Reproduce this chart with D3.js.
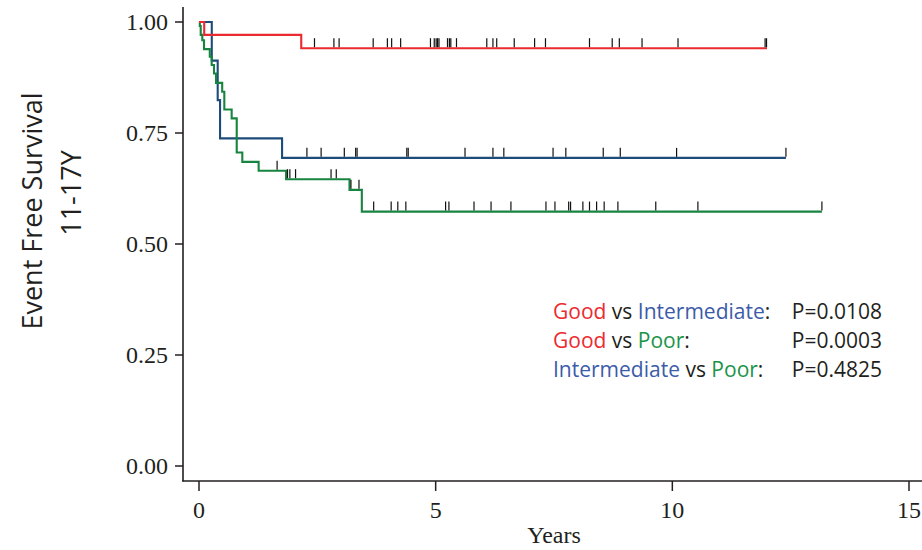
<!DOCTYPE html>
<html>
<head>
<meta charset="utf-8">
<script src="https://cdn.jsdelivr.net/npm/d3@7/dist/d3.min.js"></script>
<style>
  body { margin: 0; background: #fff; }
  svg { display: block; }
  .tick-label { font-family: "Liberation Serif", "Times New Roman", serif; font-size: 24px; fill: #231f20; }
  .legend { font-family: "Open Sans", sans-serif; font-size: 21px; }
</style>
</head>
<body>
<svg width="922" height="550"></svg>
<script>
// Kaplan-Meier steps: time (years) and survival after each step
const goodTimes = [0, 0.11, 2.16]
const goodSurv = [1, 0.971, 0.941]
const goodEnd = 12.0
const goodCensor = [2.44, 2.85, 2.96, 3.68, 3.98, 4.07, 4.26, 4.89, 4.97, 5.01, 5.04, 5.07,
  5.25, 5.29, 5.32, 5.44, 6.08, 6.21, 6.29, 6.66, 7.09, 7.32, 8.25, 8.73, 8.88, 9.36,
  10.12, 11.96, 11.99]

const interTimes = [0, 0.27, 0.395, 0.445, 1.755]
const interSurv = [1, 0.913, 0.824, 0.738, 0.694]
const interEnd = 12.40
const interCensor = [2.28, 2.58, 3.07, 3.31, 3.34, 4.39, 4.42, 5.62, 6.21, 6.44, 7.48,
  7.75, 8.54, 8.90, 10.09, 12.40]

const poorTimes = [0, 0.017, 0.036, 0.07, 0.106, 0.228, 0.268, 0.317, 0.36, 0.49, 0.535,
  0.69, 0.797, 0.915, 1.26, 1.84, 3.18, 3.44]
const poorSurv = [1, 0.991, 0.971, 0.959, 0.939, 0.922, 0.903, 0.884, 0.863, 0.843, 0.803,
  0.783, 0.706, 0.685, 0.665, 0.646, 0.622, 0.573]
const poorEnd = 13.16
const poorCensor = [1.65, 1.87, 1.92, 2.04, 2.79, 2.90, 3.21, 3.38, 3.69, 4.06, 4.20, 4.37,
  5.21, 5.28, 5.81, 6.17, 6.59, 7.33, 7.52, 7.81, 7.85, 8.11, 8.25, 8.40, 8.56, 8.85,
  9.65, 10.54, 13.16]

const xTicks = [0, 5, 10, 15]
const yTicks = [0, 0.25, 0.5, 0.75, 1]

const red = '#ea2a2e', blue = '#1d4c7b', green = '#17843f'
const ink = '#231f20'

const svg = d3.select('svg')
const x = d3.scaleLinear().domain([0, 15]).range([199, 909])
const y = d3.scaleLinear().domain([0, 1]).range([466, 22])

// axes lines drawn by hand so they can overshoot like the original
svg.append('line').attr('x1', 183).attr('x2', 183).attr('y1', 7).attr('y2', 481.5)
  .attr('stroke', ink).attr('stroke-width', 1.6)
svg.append('line').attr('x1', 182.2).attr('x2', 922).attr('y1', 481).attr('y2', 481)
  .attr('stroke', ink).attr('stroke-width', 1.6)

svg.selectAll('.ytick').data(yTicks).enter().append('line')
  .attr('x1', 175).attr('x2', 183)
  .attr('y1', d => y(d)).attr('y2', d => y(d))
  .attr('stroke', ink).attr('stroke-width', 1.5)

svg.selectAll('.ylab').data(yTicks).enter().append('text')
  .attr('class', 'tick-label')
  .attr('x', 168).attr('y', d => y(d)).attr('dy', '0.34em')
  .attr('text-anchor', 'end')
  .text(d => d3.format('.2f')(d))

svg.selectAll('.xtick').data(xTicks).enter().append('line')
  .attr('x1', d => x(d)).attr('x2', d => x(d))
  .attr('y1', 481).attr('y2', 491)
  .attr('stroke', ink).attr('stroke-width', 1.5)

svg.selectAll('.xlab').data(xTicks).enter().append('text')
  .attr('class', 'tick-label')
  .attr('x', d => x(d)).attr('y', 518)
  .attr('text-anchor', 'middle')
  .text(d => d)

svg.append('text').attr('class', 'tick-label')
  .attr('x', 554).attr('y', 543).attr('text-anchor', 'middle')
  .text('Years')

// y axis title, two lines
const yt = svg.append('g').style('font-family', '"Open Sans", sans-serif')
  .style('font-size', '27px').style('fill', ink)
yt.append('text').attr('transform', 'translate(42,211) rotate(-90)')
  .attr('text-anchor', 'middle').text('Event Free Survival')
yt.append('text').attr('transform', 'translate(81,193) rotate(-90)')
  .attr('text-anchor', 'middle').text('11-17Y')

// survival curves
const groups = [
  {times: interTimes, surv: interSurv, end: interEnd, censor: interCensor, color: blue},
  {times: poorTimes, surv: poorSurv, end: poorEnd, censor: poorCensor, color: green},
  {times: goodTimes, surv: goodSurv, end: goodEnd, censor: goodCensor, color: red},
]

const line = d3.line()
  .x(d => x(d[0])).y(d => y(d[1]))
  .curve(d3.curveStepAfter)

groups.forEach(g => {
  const pts = g.times.map((t, i) => [t, g.surv[i]])
  pts.push([g.end, g.surv[g.surv.length - 1]])
  svg.append('path')
    .attr('d', line(pts))
    .attr('fill', 'none')
    .attr('stroke', g.color)
    .attr('stroke-width', 2.1)
})

// censor marks on top
groups.forEach(g => {
  const survAt = t => g.surv[d3.bisectRight(g.times, t) - 1]
  svg.selectAll(null).data(g.censor).enter().append('line')
    .attr('x1', d => x(d)).attr('x2', d => x(d))
    .attr('y1', d => y(survAt(d)) - 1).attr('y2', d => y(survAt(d)) - 10)
    .attr('stroke', '#111').attr('stroke-width', 1.2)
})

// legend with p-values
const legBlue = '#3c5ba9', legGreen = '#1b9448', legRed = '#ec2a2f'
const legendRows = [
  {parts: [['Good', legRed], [' vs ', ink], ['Intermediate', legBlue], [':', ink]], p: 'P=0.0108'},
  {parts: [['Good', legRed], [' vs ', ink], ['Poor', legGreen], [':', ink]], p: 'P=0.0003'},
  {parts: [['Intermediate', legBlue], [' vs ', ink], ['Poor', legGreen], [':', ink]], p: 'P=0.4825'},
]
legendRows.forEach((r, i) => {
  const yy = 319 + i * 29
  const t = svg.append('text').attr('class', 'legend').attr('x', 553).attr('y', yy)
  r.parts.forEach(p => t.append('tspan').attr('fill', p[1]).text(p[0]))
  svg.append('text').attr('class', 'legend').attr('x', 882).attr('y', yy)
    .attr('text-anchor', 'end').attr('fill', ink).text(r.p)
})
</script>
</body>
</html>
